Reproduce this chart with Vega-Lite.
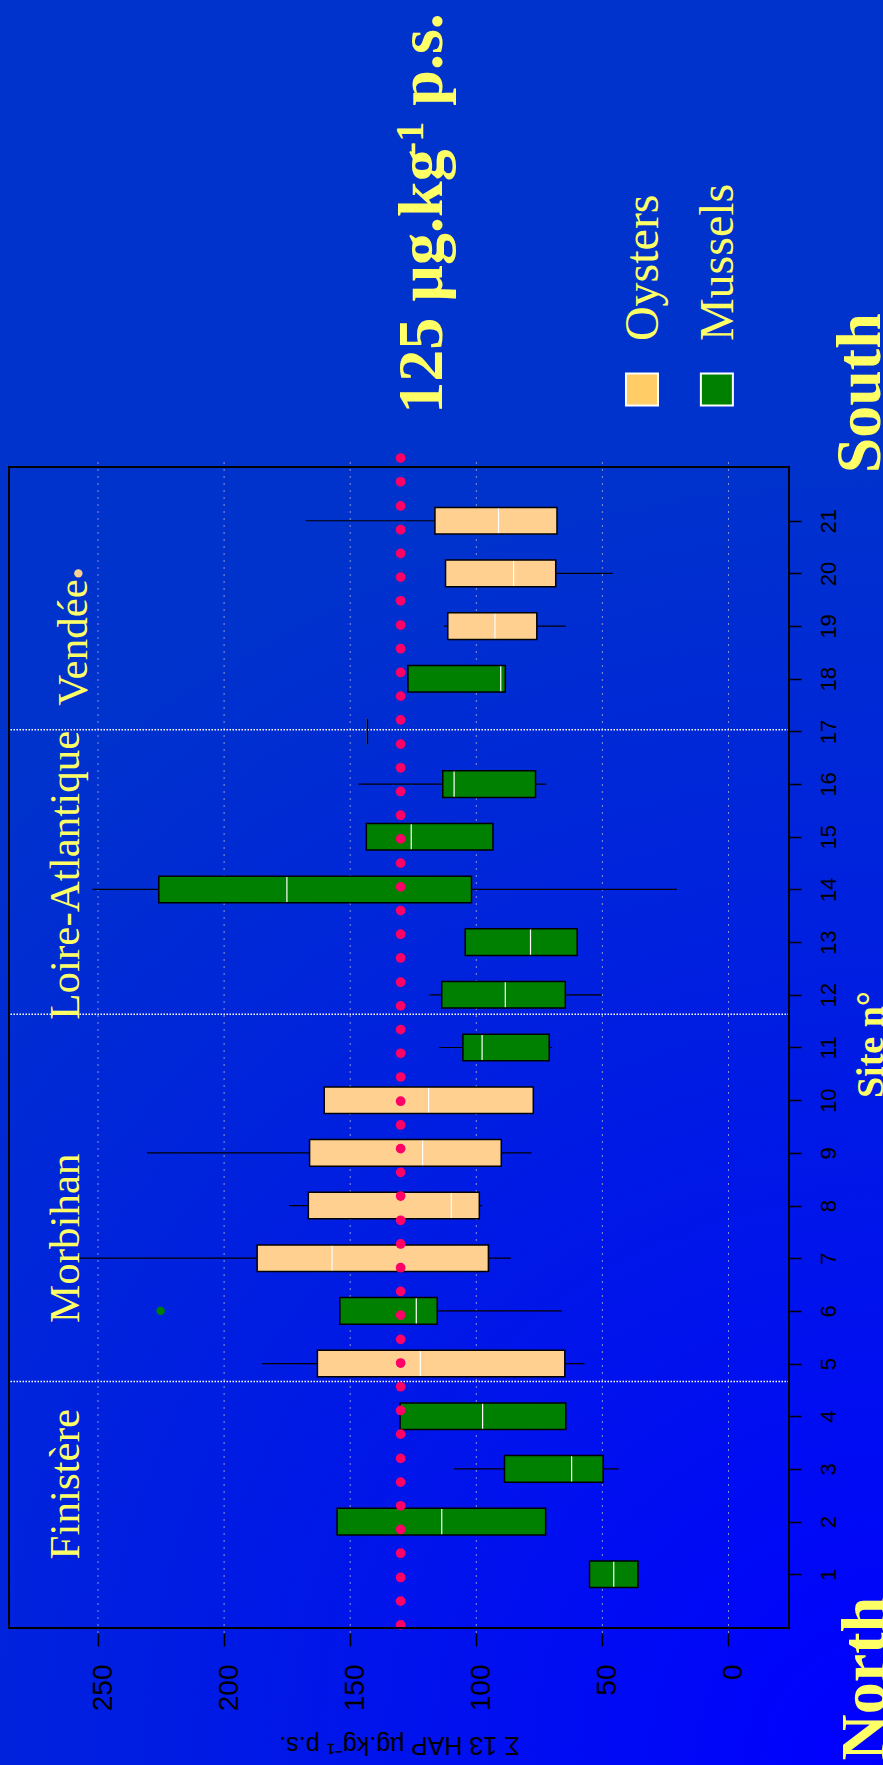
{
  "$schema": "https://vega.github.io/schema/vega-lite/v6.json",
  "width": 780,
  "height": 1171,
  "autosize": {"type": "none"},
  "padding": {"left": 9, "top": 462, "right": 94, "bottom": 132},
  "background": "#0033CC",
  "view": {"stroke": null},
  "data": {"values": [{}]},
  "datasets": {
    "boxes": [
      {"site": 1, "sp": "Mussels", "lo": 35.9, "q1": 35.9, "med": 45.5, "q3": 55.1, "hi": 55.1},
      {"site": 2, "sp": "Mussels", "lo": 72.5, "q1": 72.5, "med": 113.7, "q3": 155.2, "hi": 155.2},
      {"site": 3, "sp": "Mussels", "lo": 43.5, "q1": 49.7, "med": 62.2, "q3": 88.8, "hi": 108.8},
      {"site": 4, "sp": "Mussels", "lo": 64.5, "q1": 64.5, "med": 97.5, "q3": 130.2, "hi": 130.2},
      {"site": 5, "sp": "Oysters", "lo": 57.1, "q1": 64.9, "med": 122.2, "q3": 163.0, "hi": 184.9},
      {"site": 6, "sp": "Mussels", "lo": 66.0, "q1": 115.5, "med": 123.8, "q3": 154.1, "hi": 154.1},
      {"site": 7, "sp": "Oysters", "lo": 86.3, "q1": 95.2, "med": 157.2, "q3": 186.9, "hi": 257.6},
      {"site": 8, "sp": "Oysters", "lo": 97.7, "q1": 98.8, "med": 109.9, "q3": 166.6, "hi": 174.2},
      {"site": 9, "sp": "Oysters", "lo": 78.1, "q1": 90.1, "med": 121.3, "q3": 166.1, "hi": 230.6},
      {"site": 10, "sp": "Oysters", "lo": 77.4, "q1": 77.4, "med": 118.9, "q3": 160.3, "hi": 160.3},
      {"site": 11, "sp": "Mussels", "lo": 70.0, "q1": 71.1, "med": 97.7, "q3": 105.3, "hi": 114.6},
      {"site": 12, "sp": "Mussels", "lo": 50.2, "q1": 64.7, "med": 88.5, "q3": 113.7, "hi": 118.6},
      {"site": 13, "sp": "Mussels", "lo": 60.0, "q1": 60.0, "med": 78.5, "q3": 104.4, "hi": 104.4},
      {"site": 14, "sp": "Mussels", "lo": 20.5, "q1": 101.9, "med": 175.1, "q3": 225.9, "hi": 252.2},
      {"site": 15, "sp": "Mussels", "lo": 93.4, "q1": 93.4, "med": 125.8, "q3": 143.6, "hi": 143.6},
      {"site": 16, "sp": "Mussels", "lo": 72.3, "q1": 76.5, "med": 108.8, "q3": 113.3, "hi": 146.7},
      {"site": 17, "sp": "Mussels", "lo": 143.2, "q1": 143.2, "med": 143.2, "q3": 143.2, "hi": 143.2},
      {"site": 18, "sp": "Mussels", "lo": 88.5, "q1": 88.5, "med": 90.3, "q3": 127.1, "hi": 127.1},
      {"site": 19, "sp": "Oysters", "lo": 64.5, "q1": 76.0, "med": 92.6, "q3": 111.3, "hi": 112.8},
      {"site": 20, "sp": "Oysters", "lo": 45.9, "q1": 68.5, "med": 85.2, "q3": 112.2, "hi": 112.2},
      {"site": 21, "sp": "Oysters", "lo": 68.0, "q1": 68.0, "med": 91.2, "q3": 116.4, "hi": 167.7}
    ],
    "outliers": [
      {"site": 6, "sp": "Mussels", "v": 225.2},
      {"site": 20, "sp": "Oysters", "v": 257.8}
    ],
    "dots": [
      {"s": 0.04}, {"s": 0.49}, {"s": 0.94}, {"s": 1.40}, {"s": 1.85}, {"s": 2.30}, {"s": 2.75}, {"s": 3.20}, {"s": 3.66}, {"s": 4.11},
      {"s": 4.56}, {"s": 5.01}, {"s": 5.46}, {"s": 5.92}, {"s": 6.37}, {"s": 6.82}, {"s": 7.27}, {"s": 7.72}, {"s": 8.18}, {"s": 8.63},
      {"s": 9.08}, {"s": 9.53}, {"s": 9.98}, {"s": 10.44}, {"s": 10.89}, {"s": 11.34}, {"s": 11.79}, {"s": 12.24}, {"s": 12.70}, {"s": 13.15},
      {"s": 13.60}, {"s": 14.05}, {"s": 14.50}, {"s": 14.96}, {"s": 15.41}, {"s": 15.86}, {"s": 16.31}, {"s": 16.76}, {"s": 17.22}, {"s": 17.67},
      {"s": 18.12}, {"s": 18.57}, {"s": 19.02}, {"s": 19.48}, {"s": 19.93}, {"s": 20.38}, {"s": 20.83}, {"s": 21.28}, {"s": 21.74}, {"s": 22.19}
    ],
    "grid": [{"g": 0}, {"g": 50}, {"g": 100}, {"g": 150}, {"g": 200}, {"g": 250}],
    "dividers": [{"d": 4.66}, {"d": 11.63}, {"d": 17.03}]
  },
  "layer": [
    {
      "mark": {"type": "rect", "fill": {"gradient": "radial", "x1": 0.5, "y1": 0.5, "r1": 0, "x2": 0.5, "y2": 0.5, "r2": 0.5,
        "stops": [{"offset": 0, "color": "#0000FF"}, {"offset": 1, "color": "#0033CC"}]}},
      "encoding": {
        "x": {"datum": 460, "type": "quantitative", "scale": {"domain": [-24, 285.3], "reverse": true, "nice": false, "zero": false}},
        "x2": {"datum": -583},
        "y": {"datum": 22.24, "type": "quantitative", "scale": {"domain": [-0.02, 22.02], "nice": false, "zero": false}},
        "y2": {"datum": -27.2}
      }
    },
    {
      "data": {"name": "grid"},
      "mark": {"type": "rule", "stroke": "#8896D0", "strokeWidth": 1, "strokeDash": [2, 5]},
      "encoding": {"x": {"field": "g", "type": "quantitative"}}
    },
    {
      "data": {"name": "dividers"},
      "mark": {"type": "rule", "stroke": "white", "strokeWidth": 1.5, "strokeDash": [1.5, 1.5]},
      "encoding": {"y": {"field": "d", "type": "quantitative"}}
    },
    {
      "data": {"name": "boxes"},
      "mark": {"type": "rule", "stroke": "black", "strokeWidth": 1.2},
      "encoding": {
        "x": {"field": "lo", "type": "quantitative"},
        "x2": {"field": "hi"},
        "y": {"field": "site", "type": "quantitative"}
      }
    },
    {
      "data": {"name": "boxes"},
      "mark": {"type": "bar", "orient": "horizontal", "size": 26.6, "opacity": 1},
      "encoding": {
        "x": {"field": "q3", "type": "quantitative",
          "scale": {"domain": [-24, 285.3], "reverse": true, "nice": false, "zero": false},
          "axis": {"values": [0, 50, 100, 150, 200, 250], "grid": false, "domain": false, "ticks": true, "tickSize": 13, "tickColor": "black", "tickWidth": 1.5,
            "labelAngle": 270, "labelAlign": "right", "labelBaseline": "alphabetic", "labelOffset": 13, "labelPadding": 18,
            "labelFont": "Liberation Sans", "labelFontSize": 28, "labelColor": "black", "labelFlush": false, "labelOverlap": false, "labelBound": false,
            "title": "Σ 13 HAP µg.kg⁻¹ p.s.", "titleFont": "Liberation Sans", "titleFontSize": 25, "titleFontWeight": "normal", "titleColor": "black",
            "titleAngle": 180, "titleAlign": "center", "titleBaseline": "alphabetic", "titleX": 390, "titleY": 103, "zindex": 1}},
        "x2": {"field": "q1"},
        "y": {"field": "site", "type": "quantitative",
          "scale": {"domain": [-0.02, 22.02], "nice": false, "zero": false},
          "axis": {"orient": "right", "values": [1, 2, 3, 4, 5, 6, 7, 8, 9, 10, 11, 12, 13, 14, 15, 16, 17, 18, 19, 20, 21], "grid": false, "domain": false,
            "tickSize": 12, "tickColor": "black", "tickWidth": 1.5,
            "labelAngle": 270, "labelAlign": "center", "labelBaseline": "alphabetic", "labelPadding": 34,
            "labelFont": "Liberation Sans", "labelFontSize": 22, "labelColor": "black", "labelFlush": false, "labelOverlap": false, "labelBound": false,
            "title": "Site n°", "titleFont": "Liberation Serif", "titleFontWeight": "bold", "titleFontSize": 38, "titleColor": "#FFFF66",
            "titleAngle": 270, "titleAlign": "center", "titleBaseline": "alphabetic", "titleX": 93, "titleY": 582, "zindex": 1}},
        "color": {"field": "sp", "type": "nominal", "scale": {"domain": ["Oysters", "Mussels"], "range": ["#FFD090", "#008000"]}, "legend": null}
      }
    },
    {
      "data": {"name": "boxes"},
      "mark": {"type": "tick", "orient": "vertical", "size": 26.6, "thickness": 1.2, "color": "white", "opacity": 1},
      "encoding": {
        "x": {"field": "med", "type": "quantitative"},
        "y": {"field": "site", "type": "quantitative"}
      }
    },
    {
      "data": {"name": "boxes"},
      "mark": {"type": "bar", "orient": "horizontal", "size": 26.6, "fillOpacity": 0, "stroke": "black", "strokeWidth": 1.5},
      "encoding": {
        "x": {"field": "q3", "type": "quantitative"},
        "x2": {"field": "q1"},
        "y": {"field": "site", "type": "quantitative"}
      }
    },
    {
      "data": {"name": "outliers"},
      "mark": {"type": "circle", "size": 70, "opacity": 1},
      "encoding": {
        "x": {"field": "v", "type": "quantitative"},
        "y": {"field": "site", "type": "quantitative"},
        "color": {"field": "sp", "type": "nominal", "scale": {"domain": ["Oysters", "Mussels"], "range": ["#FFD090", "#008000"]}, "legend": null}
      }
    },
    {
      "data": {"name": "dots"},
      "mark": {"type": "circle", "size": 95, "color": "#FF0066", "opacity": 1},
      "encoding": {
        "x": {"datum": 130, "type": "quantitative"},
        "y": {"field": "s", "type": "quantitative"}
      }
    },
    {
      "mark": {"type": "rect", "fillOpacity": 0, "stroke": "black", "strokeWidth": 2},
      "encoding": {
        "x": {"datum": -24, "type": "quantitative"},
        "x2": {"datum": 285.3},
        "y": {"datum": -0.02, "type": "quantitative"},
        "y2": {"datum": 22.02}
      }
    },
    {
      "mark": {"type": "text", "text": "Finistère", "angle": 270, "align": "center", "baseline": "alphabetic", "font": "Liberation Serif", "fontSize": 43, "color": "#FFFF66"},
      "encoding": {"x": {"datum": 257.5, "type": "quantitative"}, "y": {"datum": 2.71, "type": "quantitative"}}
    },
    {
      "mark": {"type": "text", "text": "Morbihan", "angle": 270, "align": "center", "baseline": "alphabetic", "font": "Liberation Serif", "fontSize": 43, "color": "#FFFF66"},
      "encoding": {"x": {"datum": 257.5, "type": "quantitative"}, "y": {"datum": 7.38, "type": "quantitative"}}
    },
    {
      "mark": {"type": "text", "text": "Loire-Atlantique", "angle": 270, "align": "center", "baseline": "alphabetic", "font": "Liberation Serif", "fontSize": 43, "color": "#FFFF66"},
      "encoding": {"x": {"datum": 257.5, "type": "quantitative"}, "y": {"datum": 14.27, "type": "quantitative"}}
    },
    {
      "mark": {"type": "text", "text": "Vendée", "angle": 270, "align": "center", "baseline": "alphabetic", "font": "Liberation Serif", "fontSize": 43, "color": "#FFFF66"},
      "encoding": {"x": {"datum": 254.2, "type": "quantitative"}, "y": {"datum": 18.69, "type": "quantitative"}}
    },
    {
      "mark": {"type": "text", "text": "125 µg.kg", "angle": 270, "align": "left", "baseline": "alphabetic", "font": "Liberation Serif", "fontWeight": "bold", "fontSize": 64, "color": "#FFFF66"},
      "encoding": {"x": {"datum": 113.6, "type": "quantitative"}, "y": {"datum": 23.03, "type": "quantitative"}}
    },
    {
      "mark": {"type": "text", "text": "-1", "angle": 270, "align": "left", "baseline": "alphabetic", "font": "Liberation Serif", "fontWeight": "bold", "fontSize": 40, "color": "#FFFF66"},
      "encoding": {"x": {"datum": 121.1, "type": "quantitative"}, "y": {"datum": 27.94, "type": "quantitative"}}
    },
    {
      "mark": {"type": "text", "text": "p.s.", "angle": 270, "align": "left", "baseline": "alphabetic", "font": "Liberation Serif", "fontWeight": "bold", "fontSize": 64, "color": "#FFFF66"},
      "encoding": {"x": {"datum": 113.6, "type": "quantitative"}, "y": {"datum": 28.88, "type": "quantitative"}}
    },
    {
      "mark": {"type": "text", "text": "South", "angle": 270, "align": "left", "baseline": "alphabetic", "font": "Liberation Serif", "fontWeight": "bold", "fontSize": 64, "color": "#FFFF66"},
      "encoding": {"x": {"datum": -60.1, "type": "quantitative"}, "y": {"datum": 21.9, "type": "quantitative"}}
    },
    {
      "mark": {"type": "text", "text": "North", "angle": 270, "align": "right", "baseline": "alphabetic", "font": "Liberation Serif", "fontWeight": "bold", "fontSize": 64, "color": "#FFFF66"},
      "encoding": {"x": {"datum": -62.1, "type": "quantitative"}, "y": {"datum": 0.57, "type": "quantitative"}}
    },
    {
      "mark": {"type": "text", "text": "Oysters", "angle": 270, "align": "left", "baseline": "alphabetic", "font": "Liberation Serif", "fontSize": 48, "color": "#FFFF66"},
      "encoding": {"x": {"datum": 28.0, "type": "quantitative"}, "y": {"datum": 24.41, "type": "quantitative"}}
    },
    {
      "mark": {"type": "text", "text": "Mussels", "angle": 270, "align": "left", "baseline": "alphabetic", "font": "Liberation Serif", "fontSize": 48, "color": "#FFFF66"},
      "encoding": {"x": {"datum": -1.8, "type": "quantitative"}, "y": {"datum": 24.41, "type": "quantitative"}}
    },
    {
      "mark": {"type": "point", "shape": "square", "filled": true, "size": 1024, "fill": "#FFCC66", "stroke": "white", "strokeWidth": 2, "opacity": 1},
      "encoding": {"x": {"datum": 34.3, "type": "quantitative"}, "y": {"datum": 23.49, "type": "quantitative"}}
    },
    {
      "mark": {"type": "point", "shape": "square", "filled": true, "size": 1024, "fill": "#008000", "stroke": "white", "strokeWidth": 2, "opacity": 1},
      "encoding": {"x": {"datum": 4.6, "type": "quantitative"}, "y": {"datum": 23.49, "type": "quantitative"}}
    }
  ]
}
